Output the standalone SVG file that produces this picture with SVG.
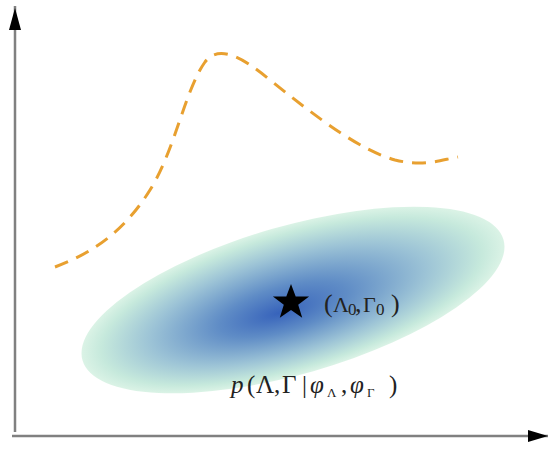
<svg xmlns="http://www.w3.org/2000/svg" width="550" height="450" viewBox="0 0 550 450">
<defs>
<style>
.axis{stroke:#808080;stroke-width:2.5;fill:none}
.lbl{font-family:"Liberation Serif","DejaVu Serif",serif;fill:#222}
</style>
<radialGradient id="g" cx="0.5" cy="0.5" r="0.5" fx="0.46" fy="0.56">
<stop offset="0" stop-color="#3763bb"/>
<stop offset="0.3" stop-color="#5f8cc6"/>
<stop offset="0.65" stop-color="#9cc3d6"/>
<stop offset="0.9" stop-color="#c6e9dc"/>
<stop offset="1" stop-color="#dbf3e6"/>
</radialGradient>
</defs>
<rect width="550" height="450" fill="#fff"/>
<g id="connectors">
<path d="M15,432 L15,6" class="axis"/>
<path d="M15,8 L9,30 L21,30 Z" fill="#000"/>
<path d="M12,436 L548,436" class="axis"/>
<path d="M548,436 L528,430 L528,442 Z" fill="#000"/>
</g>
<g id="ellipse">
<ellipse cx="293" cy="300" rx="219" ry="74" transform="rotate(-16 293 300)" fill="url(#g)"/>
</g>
<g id="curve">
<path d="M55,267 C95,252 125,230 150,190 C175,150 185,90 205,62 C218,45 240,55 270,80 C320,120 360,150 395,160 C425,167 440,160 458,157" fill="none" stroke="#e8a030" stroke-width="3" stroke-dasharray="14,9"/>
</g>
<g id="star">
<path d="M291,284 L295.7,296.6 L309.1,296.6 L298.2,304.8 L302.2,317.8 L291,310 L279.8,317.8 L283.8,304.8 L272.9,296.6 L286.3,296.6 Z" fill="#000"/>
<text class="lbl" font-size="26" y="312"><tspan x="324">(</tspan><tspan x="333" font-size="22">Λ</tspan><tspan x="348" font-size="17" dy="3">0</tspan><tspan x="355" dy="-3">,</tspan><tspan x="363" font-size="22">Γ</tspan><tspan x="376" font-size="17" dy="3">0</tspan><tspan x="391" dy="-3">)</tspan></text>
</g>
<g id="label">
<text class="lbl" font-size="25" y="393"><tspan x="231" font-style="italic">p</tspan><tspan x="247">(</tspan><tspan x="256">Λ</tspan><tspan x="274">,</tspan><tspan x="282">Γ</tspan><tspan x="302">|</tspan><tspan x="310" font-style="italic">φ</tspan><tspan x="327" font-size="13" dy="4">Λ</tspan><tspan x="341" dy="-4">,</tspan><tspan x="350" font-style="italic">φ</tspan><tspan x="367" font-size="13" dy="4">Γ</tspan><tspan x="389" dy="-4">)</tspan></text>
</g>
</svg>
